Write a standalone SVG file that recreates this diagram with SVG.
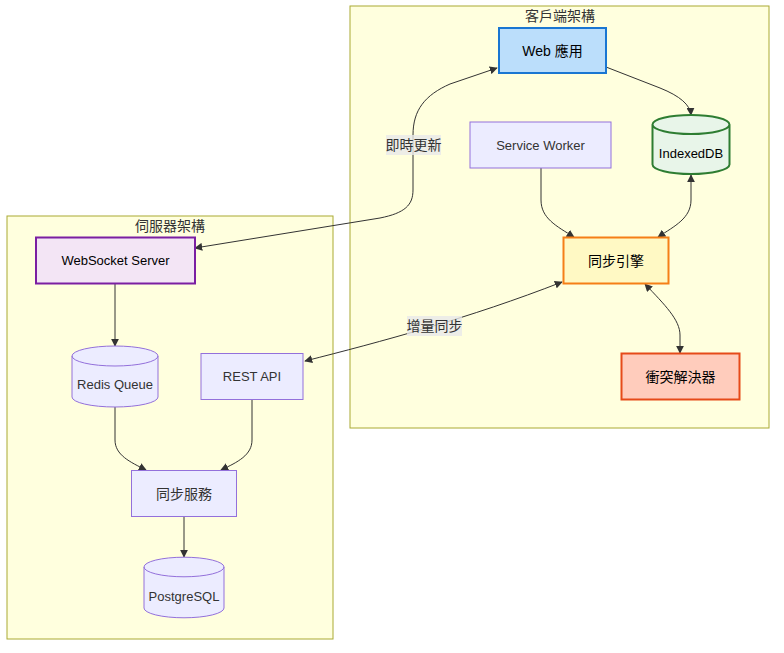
<svg xmlns="http://www.w3.org/2000/svg" width="784" height="653" viewBox="0 0 784 653">
<style>
text{font-family:"Trebuchet MS","Liberation Sans","Noto Sans CJK TC",sans-serif;font-size:14px;fill:#333;text-anchor:middle;dominant-baseline:central}
text.lat{font-size:13px}
.cluster{fill:#ffffde;stroke:#aaaa33;stroke-width:1}
.node{fill:#ececff;stroke:#9370db;stroke-width:1}
.edge{fill:none;stroke:#333;stroke-width:1}
.lbl{fill:#e8e8e8;opacity:0.8}
.dark{fill:#000}
</style>
<defs>
<marker id="arr" viewBox="0 0 10 10" refX="9" refY="5" markerWidth="8" markerHeight="8" markerUnits="userSpaceOnUse" orient="auto-start-reverse">
<path d="M0,0 L10,5 L0,10 z" fill="#333"/>
</marker>
</defs>
<rect width="784" height="653" fill="#ffffff"/>
<g id="cluster-client">
<rect class="cluster" x="350" y="6" width="419" height="422"/>
<text x="560" y="16">客戶端架構</text>
</g>
<g id="cluster-server">
<rect class="cluster" x="7" y="216" width="326" height="423"/>
<text x="170" y="226">伺服器架構</text>
</g>
<g id="edges">
<path class="edge" d="M606,67 L660,88 Q690,100 691,115" marker-end="url(#arr)"/>
<path class="edge" d="M541,168 L541,200 C541,218 556,226 574,237" marker-end="url(#arr)"/>
<path class="edge" d="M691,175 L691,200 C691,218 675,226 658,237" marker-start="url(#arr)" marker-end="url(#arr)"/>
<path class="edge" d="M645,284 C665,305 680,320 680,335 L680,353" marker-start="url(#arr)" marker-end="url(#arr)"/>
<path class="edge" d="M195,248 L380,218 C405,213 413,205 413,190 L413,135 C413,110 425,95 450,84 L497,68" marker-start="url(#arr)" marker-end="url(#arr)"/>
<path class="edge" d="M305,361 C380,342 470,318 562,282" marker-start="url(#arr)" marker-end="url(#arr)"/>
<path class="edge" d="M115,283 L115,346" marker-end="url(#arr)"/>
<path class="edge" d="M115,407 L115,440 C115,455 130,462 146,470" marker-end="url(#arr)"/>
<path class="edge" d="M252,399 L252,440 C252,455 238,462 221,470" marker-end="url(#arr)"/>
<path class="edge" d="M184,516 L184,557" marker-end="url(#arr)"/>
<rect class="lbl" x="386" y="135" width="55" height="20"/>
<text x="413.5" y="145">即時更新</text>
<rect class="lbl" x="407" y="316" width="55" height="20"/>
<text x="434.5" y="326">增量同步</text>
</g>
<g id="web-app">
<rect x="499" y="28" width="107" height="45" fill="#bbdefb" stroke="#1976d2" stroke-width="2"/>
<text class="dark" x="552.5" y="50.5">Web 應用</text>
</g>
<g id="service-worker">
<rect class="node" x="470" y="122" width="141" height="46"/>
<text class="lat" x="540.5" y="145">Service Worker</text>
</g>
<g id="indexeddb">
<path d="M652.5,124.5 a38.5,9.5 0 0,0 77,0 a38.5,9.5 0 0,0 -77,0 l0,40 a38.5,9.5 0 0,0 77,0 l0,-40" fill="#e8f5e9" stroke="#2e7d32" stroke-width="2"/>
<text class="dark lat" x="691" y="153">IndexedDB</text>
</g>
<g id="sync-engine">
<rect x="563.5" y="237.5" width="105" height="46" fill="#fff9c4" stroke="#f57f17" stroke-width="2"/>
<text class="dark" x="616" y="260.5">同步引擎</text>
</g>
<g id="conflict-resolver">
<rect x="621.5" y="353.5" width="118" height="46" fill="#ffccbc" stroke="#e64a19" stroke-width="2"/>
<text class="dark" x="680.5" y="376.5">衝突解決器</text>
</g>
<g id="websocket-server">
<rect x="36" y="237.5" width="159" height="46" fill="#f3e5f5" stroke="#7b1fa2" stroke-width="2"/>
<text class="dark lat" x="115.5" y="260.5">WebSocket Server</text>
</g>
<g id="redis-queue">
<path class="node" d="M72,356 a43,10 0 0,0 86,0 a43,10 0 0,0 -86,0 l0,41 a43,10 0 0,0 86,0 l0,-41"/>
<text class="lat" x="115" y="384">Redis Queue</text>
</g>
<g id="rest-api">
<rect class="node" x="201" y="353.5" width="102" height="46"/>
<text class="lat" x="252" y="376.5">REST API</text>
</g>
<g id="sync-service">
<rect class="node" x="131.5" y="470.5" width="105" height="46"/>
<text x="184" y="493.5">同步服務</text>
</g>
<g id="postgresql">
<path class="node" d="M144,567 a40,9.8 0 0,0 80,0 a40,9.8 0 0,0 -80,0 l0,41 a40,9.8 0 0,0 80,0 l0,-41"/>
<text class="lat" x="184" y="596">PostgreSQL</text>
</g>
</svg>
